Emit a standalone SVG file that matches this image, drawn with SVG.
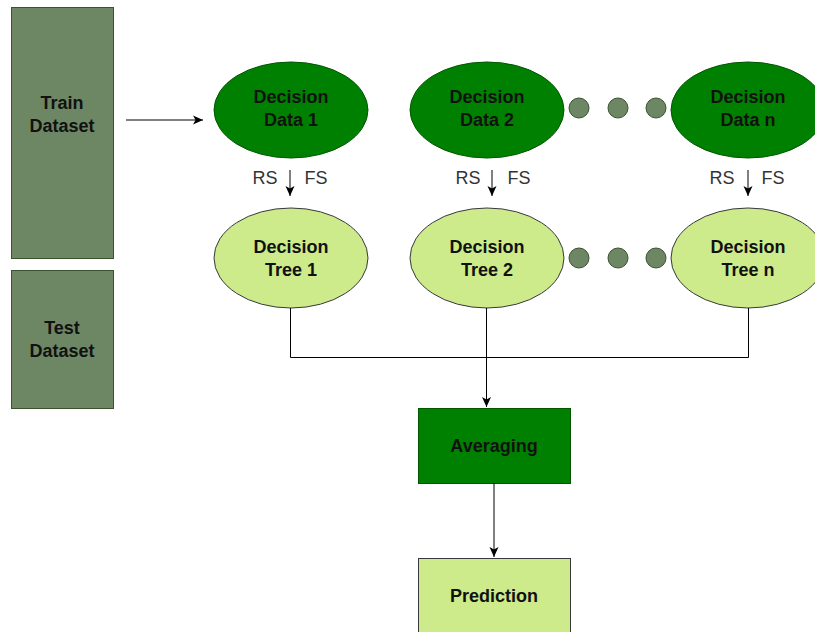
<svg xmlns="http://www.w3.org/2000/svg" width="815" height="632" viewBox="0 0 815 632">
<defs>
<marker id="ah" markerWidth="12" markerHeight="12" refX="11" refY="6" orient="auto" markerUnits="userSpaceOnUse">
<path d="M1,1.5 L11,6 L1,10.5 L3.5,6 Z" fill="#000"/>
</marker>
<style>
.ds{fill:#6d8764;stroke:#3a5431;stroke-width:1}
.dd{fill:#008000;stroke:#005700;stroke-width:1}
.dt{fill:#cdeb8b;stroke:#36393d;stroke-width:1}
.lb{font-family:"Liberation Sans",Arial,sans-serif;font-size:18px;font-weight:bold;fill:#111;text-anchor:middle}
.sm{font-family:"Liberation Sans",Arial,sans-serif;font-size:18px;fill:#333;text-anchor:middle}
.cn{stroke:#000;stroke-width:1;fill:none}
</style>
</defs>
<rect width="815" height="632" fill="#fff"/>
<g id="train"><rect class="ds" x="11.5" y="7.5" width="102" height="251"/><text class="lb" x="62" y="109">Train</text><text class="lb" x="62" y="132">Dataset</text></g>
<g id="test"><rect class="ds" x="11.5" y="270.5" width="102" height="138"/><text class="lb" x="62" y="334">Test</text><text class="lb" x="62" y="357">Dataset</text></g>
<g id="data1"><ellipse class="dd" cx="291" cy="110" rx="77" ry="48"/><text class="lb" x="291" y="103">Decision</text><text class="lb" x="291" y="126">Data 1</text></g>
<g id="data2"><ellipse class="dd" cx="487" cy="110" rx="77" ry="48"/><text class="lb" x="487" y="103">Decision</text><text class="lb" x="487" y="126">Data 2</text></g>
<g id="datan"><ellipse class="dd" cx="748" cy="110" rx="77" ry="48"/><text class="lb" x="748" y="103">Decision</text><text class="lb" x="748" y="126">Data n</text></g>
<g id="dots1"><circle class="ds" cx="579" cy="108" r="10"/><circle class="ds" cx="618" cy="108" r="10"/><circle class="ds" cx="656" cy="108" r="10"/></g>
<g id="tree1"><ellipse class="dt" cx="291" cy="258" rx="77" ry="50"/><text class="lb" x="291" y="253">Decision</text><text class="lb" x="291" y="276">Tree 1</text></g>
<g id="tree2"><ellipse class="dt" cx="487" cy="258" rx="77" ry="50"/><text class="lb" x="487" y="253">Decision</text><text class="lb" x="487" y="276">Tree 2</text></g>
<g id="treen"><ellipse class="dt" cx="748" cy="258" rx="77" ry="50"/><text class="lb" x="748" y="253">Decision</text><text class="lb" x="748" y="276">Tree n</text></g>
<g id="dots2"><circle class="ds" cx="579" cy="258" r="10"/><circle class="ds" cx="618" cy="258" r="10"/><circle class="ds" cx="656" cy="258" r="10"/></g>
<g id="averaging"><rect class="dd" x="418.5" y="408.5" width="152" height="75"/><text class="lb" x="494" y="452">Averaging</text></g>
<g id="prediction"><rect class="dt" x="418.5" y="558.5" width="152" height="80"/><text class="lb" x="494" y="602">Prediction</text></g>
<g id="connectors">
<line class="cn" x1="126" y1="120" x2="203" y2="120" marker-end="url(#ah)"/>
<line class="cn" x1="290" y1="170" x2="290" y2="196" marker-end="url(#ah)"/>
<line class="cn" x1="492" y1="170" x2="492" y2="196" marker-end="url(#ah)"/>
<line class="cn" x1="748" y1="170" x2="748" y2="196" marker-end="url(#ah)"/>
<text class="sm" x="265" y="184">RS</text><text class="sm" x="316" y="184">FS</text>
<text class="sm" x="468" y="184">RS</text><text class="sm" x="519" y="184">FS</text>
<text class="sm" x="722" y="184">RS</text><text class="sm" x="773" y="184">FS</text>
<polyline class="cn" points="290.5,308 290.5,357.5 748.5,357.5 748.5,308"/>
<line class="cn" x1="486.5" y1="308" x2="486.5" y2="407" marker-end="url(#ah)"/>
<line class="cn" x1="494" y1="483" x2="494" y2="557" marker-end="url(#ah)"/>
</g>
</svg>
